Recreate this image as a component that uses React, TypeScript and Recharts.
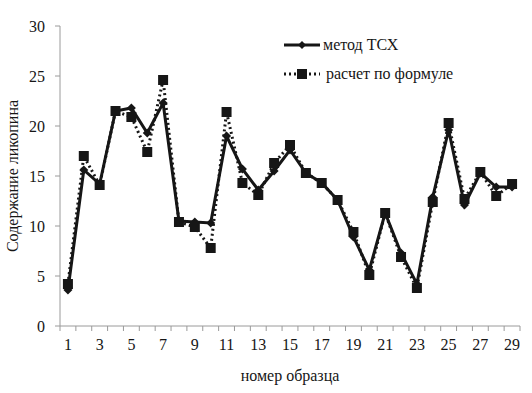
import React from 'react';
import { LineChart, Line, XAxis, YAxis, Label } from 'recharts';

const samples = [1, 2, 3, 4, 5, 6, 7, 8, 9, 10, 11, 12, 13, 14, 15, 16, 17, 18, 19, 20, 21, 22, 23, 24, 25, 26, 27, 28, 29];
const tlc = [3.6, 15.6, 14.2, 21.5, 21.8, 19.3, 22.3, 10.5, 10.4, 10.3, 19.0, 15.7, 13.6, 15.5, 17.6, 15.3, 14.3, 12.6, 8.9, 5.6, 11.3, 7.3, 4.2, 12.9, 19.6, 12.1, 15.3, 13.9, 13.9];
const formula = [4.2, 17.0, 14.1, 21.5, 20.9, 17.4, 24.6, 10.4, 9.9, 7.8, 21.4, 14.3, 13.1, 16.3, 18.1, 15.3, 14.3, 12.6, 9.4, 5.1, 11.3, 6.9, 3.8, 12.4, 20.3, 12.7, 15.4, 13.0, 14.2];
const xLabels = [1, 3, 5, 7, 9, 11, 13, 15, 17, 19, 21, 23, 25, 27, 29];
const yTicks = [0, 5, 10, 15, 20, 25, 30];

const data = samples.map((n, i) => ({ n, tlc: tlc[i], formula: formula[i] }));
const tickMarks = samples.map((n) => n - 0.5).concat([29.5]);
const xTicks = [...tickMarks, ...xLabels].sort((a, b) => a - b);

const FONT = '"Liberation Serif", "Times New Roman", "DejaVu Serif", serif';
const INK = '#161616';
const AXIS = '#9a9a9a';
const FS = 16;

const Diamond = (props: any) => {
  const { cx, cy } = props;
  if (cx == null || cy == null) return null;
  return <path d={`M${cx},${cy - 4.5}L${cx + 4.5},${cy}L${cx},${cy + 4.5}L${cx - 4.5},${cy}Z`} fill={INK} />;
};

const Square = (props: any) => {
  const { cx, cy } = props;
  if (cx == null || cy == null) return null;
  return <rect x={cx - 5} y={cy - 5} width={10} height={10} fill={INK} />;
};

const XTick = (props: any) => {
  const { x, y, payload } = props;
  const v = payload.value;
  if (v % 1 !== 0) {
    return <line x1={x} x2={x} y1={y} y2={y + 5} stroke={AXIS} strokeWidth={1} />;
  }
  return (
    <text x={x} y={y + 24} textAnchor="middle" fontSize={FS} fontFamily={FONT} fill={INK}>
      {v}
    </text>
  );
};

const LegendBox = () => (
  <div style={{ position: 'absolute', left: 282, top: 30, fontFamily: FONT, fontSize: FS, color: INK }}>
    <div style={{ display: 'flex', alignItems: 'center', height: 29 }}>
      <svg width={40} height={12}>
        <line x1={2} x2={38} y1={6} y2={6} stroke={INK} strokeWidth={3} />
        <path d="M20,2L24,6L20,10L16,6Z" fill={INK} />
      </svg>
      <span style={{ marginLeft: 1 }}>метод ТСХ</span>
    </div>
    <div style={{ display: 'flex', alignItems: 'center', height: 29 }}>
      <svg width={40} height={12}>
        <line x1={2} x2={38} y1={6} y2={6} stroke={INK} strokeWidth={3} strokeDasharray="2 3" />
        <rect x={15} y={1} width={10} height={10} fill={INK} />
      </svg>
      <span style={{ marginLeft: 4 }}>расчет по формуле</span>
    </div>
  </div>
);

export default function App() {
  return (
    <div style={{ position: 'absolute', left: 0, top: 0, width: 532, height: 393, background: '#fff', fontFamily: FONT }}>
      <LineChart width={532} height={393} data={data} margin={{ top: 26, right: 12, bottom: 6, left: 10 }}>
        <XAxis
          dataKey="n"
          type="number"
          domain={[0.5, 29.5]}
          ticks={xTicks}
          interval={0}
          tick={<XTick />}
          tickLine={false}
          tickSize={0}
          tickMargin={0}
          stroke={AXIS}
          height={61}
        >
          <Label value="номер образца" position="insideBottom" offset={6} style={{ fontFamily: FONT, fontSize: FS, fill: INK }} />
        </XAxis>
        <YAxis
          domain={[0, 30]}
          ticks={yTicks}
          interval={0}
          width={50}
          tickSize={5}
          tickMargin={10}
          stroke={AXIS}
          tick={{ fontFamily: FONT, fontSize: FS, fill: INK }}
        >
          <Label value="Содержание ликопина" angle={-90} position="insideLeft" offset={2} style={{ fontFamily: FONT, fontSize: FS, fill: INK, textAnchor: 'middle' }} />
        </YAxis>
        <Line
          dataKey="tlc"
          stroke={INK}
          strokeWidth={3}
          dot={<Diamond />}
          activeDot={false}
          isAnimationActive={false}
        />
        <Line
          dataKey="formula"
          stroke={INK}
          strokeWidth={3}
          strokeDasharray="2 3"
          dot={<Square />}
          activeDot={false}
          isAnimationActive={false}
        />
      </LineChart>
      <LegendBox />
    </div>
  );
}
